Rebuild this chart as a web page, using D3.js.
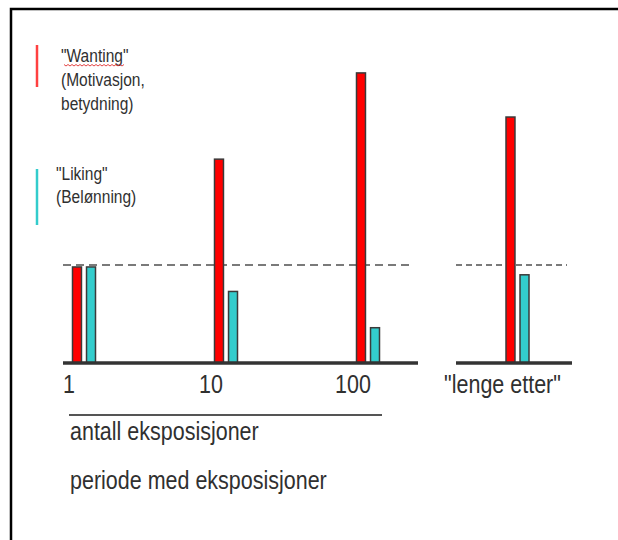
<!DOCTYPE html>
<html>
<head>
<meta charset="utf-8">
<script src="https://cdn.jsdelivr.net/npm/d3@7"></script>
<style>
  html, body { margin: 0; padding: 0; background: #fff; }
  svg { display: block; font-family: "Liberation Sans", Arial, sans-serif; }
</style>
</head>
<body>
<div id="chart"></div>
<script>
// exposure groups and the "long after" group
const exposures = ["1", "10", "100"];
const afterLabel = ["\"lenge etter\""];
const series = ["wanting", "liking"];

// bar heights, relative to the initial level (dashed line = 1)
const wanting = [0.98, 2.08, 2.96, 2.51];
const liking = [0.98, 0.73, 0.36, 0.90];

const legendWanting = ["\"Wanting\"", "(Motivasjon,", "betydning)"];
const legendLiking = ["\"Liking\"", "(Belønning)"];
const axisTitles = ["antall eksposisjoner", "periode med eksposisjoner"];

const width = 618, height = 540;
const colors = { wanting: "#ff0000", liking: "#33cccc" };
const textColor = "#303030";

const svg = d3.select("#chart")
  .append("svg")
  .attr("width", width)
  .attr("height", height);

// slide frame (only top and left edges are visible)
svg.append("path")
  .attr("d", `M11,${height} V9 H${width}`)
  .attr("fill", "none")
  .attr("stroke", "#000")
  .attr("stroke-width", 2.5);

const y = d3.scaleLinear()
  .domain([0, 1])
  .range([363, 265]);

const xLeft = d3.scalePoint()
  .domain(exposures)
  .range([84, 368]);

const xRight = d3.scalePoint()
  .domain(afterLabel)
  .range([462, 573])
  .padding(0.5);

const xSub = d3.scaleBand()
  .domain(series)
  .range([-11.5, 11.5])
  .paddingInner(0.36);

const panels = [
  { x: xLeft, cats: exposures, from: 63, to: 418, dash: "8,5", offset: 0 },
  { x: xRight, cats: afterLabel, from: 456, to: 572, dash: "6,4", offset: exposures.length }
];

const label = (sel, size) => sel
  .attr("font-size", size)
  .attr("fill", textColor);

panels.forEach(p => {
  const rows = p.cats.map((c, i) => ({
    cat: c,
    wanting: wanting[i + p.offset],
    liking: liking[i + p.offset]
  }));

  // reference level
  svg.append("line")
    .attr("x1", p.from)
    .attr("x2", p.to - 5)
    .attr("y1", y(1))
    .attr("y2", y(1))
    .attr("stroke", "#7a7a7a")
    .attr("stroke-width", 2)
    .attr("stroke-dasharray", p.dash);

  const groups = svg.selectAll(null)
    .data(rows)
    .enter()
    .append("g")
    .attr("transform", d => `translate(${p.x(d.cat)},0)`);

  groups.selectAll("rect")
    .data(d => series.map(s => ({ key: s, value: d[s] })))
    .enter()
    .append("rect")
    .attr("x", d => xSub(d.key))
    .attr("y", d => y(d.value))
    .attr("width", xSub.bandwidth())
    .attr("height", d => y(0) - y(d.value))
    .attr("fill", d => colors[d.key])
    .attr("stroke", "#3a3a3a")
    .attr("stroke-width", 1.5);

  // baseline
  svg.append("line")
    .attr("x1", p.from)
    .attr("x2", p.to)
    .attr("y1", y(0))
    .attr("y2", y(0))
    .attr("stroke", "#333")
    .attr("stroke-width", 3.5);

  groups.append("text")
    .attr("text-anchor", "middle")
    .attr("transform", `translate(-15,393) scale(0.86,1)`)
    .call(label, 25)
    .text(d => d.cat);
});

// line under the exposure groups
svg.append("line")
  .attr("x1", 69)
  .attr("x2", 382)
  .attr("y1", 415)
  .attr("y2", 415)
  .attr("stroke", "#555")
  .attr("stroke-width", 2);

svg.selectAll(".title")
  .data(axisTitles)
  .enter()
  .append("text")
  .attr("class", "title")
  .attr("transform", (d, i) => `translate(70,${440 + i * 49}) scale(0.86,1)`)
  .call(label, 25)
  .text(d => d);

// legend
const legend = [
  { key: "wanting", lines: legendWanting, top: 45, bottom: 87, tx: 61, ty: 62, step: 24 },
  { key: "liking", lines: legendLiking, top: 169, bottom: 225, tx: 56, ty: 180, step: 23 }
];

legend.forEach(l => {
  svg.append("line")
    .attr("x1", 37)
    .attr("x2", 37)
    .attr("y1", l.top)
    .attr("y2", l.bottom)
    .attr("stroke", l.key === "wanting" ? "#ff4040" : colors.liking)
    .attr("stroke-width", 2.5);

  svg.selectAll(null)
    .data(l.lines)
    .enter()
    .append("text")
    .attr("transform", (d, i) => `translate(${l.tx},${l.ty + i * l.step}) scale(0.84,1)`)
    .call(label, 18.5)
    .text(d => d);
});

// spell-check squiggle under "Wanting"
const squiggle = d3.range(64, 126, 2).map((xx, i) => [xx, 65 + (i % 2 ? 1 : -0.5)]);
svg.append("path")
  .attr("d", d3.line()(squiggle))
  .attr("fill", "none")
  .attr("stroke", "#e03030")
  .attr("stroke-width", 0.9);
</script>
</body>
</html>
